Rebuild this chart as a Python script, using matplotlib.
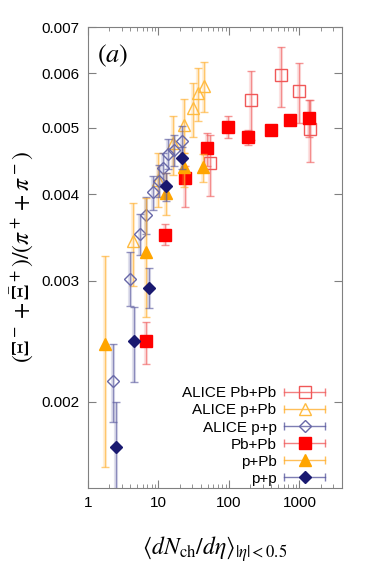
import matplotlib
matplotlib.use("Agg")
from matplotlib import pyplot as plt
from matplotlib.lines import Line2D
from matplotlib.legend_handler import HandlerBase
from matplotlib.ticker import FixedLocator, NullLocator, LogLocator, FixedFormatter
import numpy as np

plt.rcParams['font.family'] = ['Liberation Sans', 'DejaVu Sans']
plt.rcParams['mathtext.fontset'] = 'stix'

# ALICE data (open markers): x, value, lower / upper end of error bar
alice_pbpb_x = [53.8, 205, 547, 984, 1409]
alice_pbpb_y = [0.00445, 0.00549, 0.00596, 0.00566, 0.00498]
alice_pbpb_lo = [0.00398, 0.00480, 0.00536, 0.00508, 0.00446]
alice_pbpb_hi = [0.00488, 0.00604, 0.00655, 0.00621, 0.00549]

alice_ppb_x = [4.4, 9.8, 16.1, 23.2, 30.5, 36.2, 45.0]
alice_ppb_y = [0.00342, 0.00420, 0.00475, 0.00504, 0.00534, 0.00562, 0.00575]
alice_ppb_lo = [0.00295, 0.00383, 0.00427, 0.00460, 0.00485, 0.00512, 0.00527]
alice_ppb_hi = [0.00389, 0.00460, 0.00520, 0.00550, 0.00580, 0.00610, 0.00623]

alice_pp_x = [2.26, 3.9, 5.4, 6.72, 8.45, 10.1, 11.5, 13.5, 16.5, 21.3]
alice_pp_y = [0.002145, 0.00302, 0.00350, 0.00373, 0.00403, 0.00419, 0.00437, 0.00458, 0.00464, 0.00478]
alice_pp_lo = [0.00187, 0.00276, 0.00327, 0.00350, 0.00380, 0.00396, 0.00414, 0.00435, 0.00440, 0.00453]
alice_pp_hi = [0.00243, 0.00330, 0.00375, 0.00396, 0.00426, 0.00442, 0.00460, 0.00481, 0.00488, 0.00503]

# model results (filled markers)
pbpb_x = [6.65, 12.4, 23.8, 48.7, 96.8, 186, 394, 733, 1364]
pbpb_y = [0.00245, 0.00349, 0.00422, 0.00467, 0.00501, 0.00484, 0.00496, 0.00513, 0.00517]
pbpb_lo = [0.00227, 0.00338, 0.00383, 0.00440, 0.00483, 0.00472, 0.00488, 0.00505, 0.00485]
pbpb_hi = [0.00261, 0.00362, 0.00440, 0.00491, 0.00520, 0.00496, 0.00504, 0.00521, 0.00549]

ppb_x = [1.74, 6.65, 13.0, 23.0, 42.8]
ppb_y = [0.00243, 0.00330, 0.00402, 0.00439, 0.00439]
ppb_lo = [0.00161, 0.00266, 0.00374, 0.00410, 0.00417]
ppb_hi = [0.00326, 0.00395, 0.00430, 0.00460, 0.00458]

pp_x = [2.5, 4.49, 7.33, 12.8, 21.5]
pp_y = [0.00172, 0.00245, 0.00293, 0.00411, 0.00452]
pp_lo = [0.00130, 0.00214, 0.00274, 0.00392, 0.00435]
pp_hi = [0.00200, 0.00275, 0.00313, 0.00430, 0.00469]

yticks = [0.002, 0.003, 0.004, 0.005, 0.006, 0.007]
xticks = [1, 10, 100, 1000]


class GnuHandler(HandlerBase):
    # gnuplot-like key entry: horizontal bar with end caps, marker in the middle
    def __init__(self, ecol):
        super().__init__()
        self.ecol = ecol

    def create_artists(self, legend, orig, xdescent, ydescent, width, height, fontsize, trans):
        y = height / 2 - ydescent
        x0 = -xdescent
        x1 = x0 + width
        bar = Line2D([x0, x1], [y, y], color=self.ecol, lw=1, alpha=0.8)
        caps = Line2D([x0, x1], [y, y], ls='none', marker='|', ms=6, mew=1,
                      color=self.ecol, alpha=0.8)
        mk = Line2D([(x0 + x1) / 2], [y], ls='none', marker=orig.get_marker(),
                    ms=orig.get_markersize(), mfc=orig.get_markerfacecolor(),
                    mec=orig.get_markeredgecolor(), mew=orig.get_markeredgewidth())
        for a in (bar, caps, mk):
            a.set_transform(trans)
        return [bar, caps, mk]


fig = plt.figure(figsize=(3.74, 5.71), dpi=100)
ax = fig.add_axes([0.235, 0.1454, 0.679, 0.8073])
ax.set_xscale('log')
ax.set_yscale('log')

series = [
    (alice_pbpb_x, alice_pbpb_y, alice_pbpb_lo, alice_pbpb_hi, 's', 8, 'none', '#f05858', '#f06060', 'ALICE Pb+Pb'),
    (alice_ppb_x, alice_ppb_y, alice_ppb_lo, alice_ppb_hi, '^', 9, 'none', '#ffbb40', '#ffb030', 'ALICE p+Pb'),
    (alice_pp_x, alice_pp_y, alice_pp_lo, alice_pp_hi, 'D', 6, 'none', '#6868a8', '#5c5ca0', 'ALICE p+p'),
    (pbpb_x, pbpb_y, pbpb_lo, pbpb_hi, 's', 8.5, '#ff0000', '#ff0000', '#f06060', 'Pb+Pb'),
    (ppb_x, ppb_y, ppb_lo, ppb_hi, '^', 9, '#ffa500', '#ffa500', '#ffb030', 'p+Pb'),
    (pp_x, pp_y, pp_lo, pp_hi, 'D', 6.5, '#191970', '#191970', '#5c5ca0', 'p+p'),
]

handles = []
hmap = {}
for x, y, lo, hi, m, ms, fc, ec, errc, lab in series:
    y = np.array(y)
    err = [y - np.array(lo), np.array(hi) - y]
    ax.errorbar(x, y, yerr=err, fmt='none', ecolor=errc, elinewidth=3, alpha=0.18, capsize=0)
    ax.errorbar(x, y, yerr=err, fmt='none', ecolor=errc, elinewidth=1, alpha=0.65, capsize=2.8, capthick=1)
    h, = ax.plot(x, y, ls='none', marker=m, ms=ms, mfc=fc, mec=ec, mew=1, label=lab)
    handles.append(h)
    hmap[h] = GnuHandler(errc)

ax.set_xlim(1, 4000)
ax.set_ylim(0.0015, 0.007)

ax.yaxis.set_major_locator(FixedLocator(yticks))
ax.yaxis.set_major_formatter(FixedFormatter(['%.3f' % v for v in yticks]))
ax.yaxis.set_minor_locator(NullLocator())
ax.xaxis.set_major_locator(FixedLocator(xticks))
ax.xaxis.set_major_formatter(FixedFormatter([str(v) for v in xticks]))
ax.xaxis.set_minor_locator(LogLocator(base=10, subs=np.arange(2, 10)))

ax.tick_params(which='both', direction='in', top=True, right=True, color='#808080', labelsize=11)
ax.tick_params(which='major', length=6, pad=6)
ax.tick_params(which='minor', length=3)
for s in ax.spines.values():
    s.set_color('#808080')

ax.set_xlabel(r'$\langle dN_{\rm ch}/d\eta\rangle_{|\eta|<0.5}$', fontsize=17, labelpad=17)
ax.set_ylabel(r'$(\Xi^- + \bar{\Xi}^+)/(\pi^+ + \pi^-)$', fontsize=17, labelpad=4)
ax.text(0.035, 0.965, r'$(a)$', transform=ax.transAxes, fontsize=19, va='top', ha='left')

ax.legend(handles=handles, handler_map=hmap, loc='lower right', bbox_to_anchor=(0.935, 0.005),
          frameon=False, markerfirst=False, fontsize=11, handlelength=2.7, handletextpad=0.5,
          labelspacing=0.2, borderpad=0, borderaxespad=0)

fig.savefig('out.png', dpi=100)
